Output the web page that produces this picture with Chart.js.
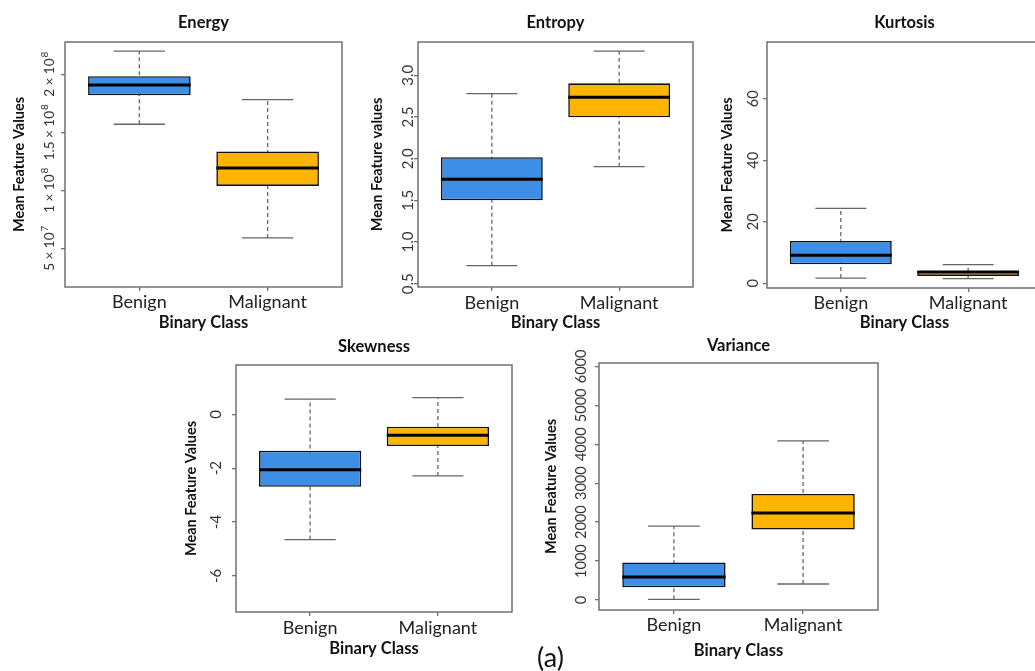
<!DOCTYPE html>
<html>
<head>
<meta charset="utf-8">
<script src="https://cdn.jsdelivr.net/npm/chart.js@4.4.1/dist/chart.umd.min.js"></script>
<style>
  html, body { margin: 0; padding: 0; background: #fff; overflow: hidden; }
  body { width: 1035px; height: 671px; position: relative; }
  canvas { position: absolute; }
  #tag { position: absolute; left: 537px; top: 641px; font: 27px Lato, sans-serif; color: #111; line-height: 32px; }
</style>
</head>
<body>
<canvas id="energy"></canvas>
<canvas id="entropy"></canvas>
<canvas id="kurtosis"></canvas>
<canvas id="skewness"></canvas>
<canvas id="variance"></canvas>
<div id="tag">(a)</div>
<script>
const categories = ["Benign", "Malignant"]

// five-number summaries: [min, q1, median, q3, max]
const energyBenign = [1.569e8, 1.819e8, 1.908e8, 1.983e8, 2.20e8]
const energyMalignant = [5.89e7, 1.037e8, 1.192e8, 1.334e8, 1.782e8]
const entropyBenign = [0.716, 1.50, 1.753, 2.017, 2.78]
const entropyMalignant = [1.904, 2.496, 2.736, 2.904, 3.29]
const kurtosisBenign = [1.7, 6.2, 9.15, 13.8, 24.4]
const kurtosisMalignant = [1.5, 2.4, 3.7, 4.0, 6.1]
const skewnessBenign = [-4.65, -2.69, -2.06, -1.35, 0.56]
const skewnessMalignant = [-2.29, -1.18, -0.78, -0.46, 0.62]
const varianceBenign = [17, 326, 591, 964, 1897]
const varianceMalignant = [411, 1808, 2236, 2725, 4085]

// y axis ticks and their labels (^ marks a superscript)
const energyTicks = [5e7, 1e8, 1.5e8, 2e8]
const energyTickLabels = ["5 \u00d7 10^7", "1 \u00d7 10^8", "1.5 \u00d7 10^8", "2 \u00d7 10^8"]
const entropyTicks = [0.5, 1.0, 1.5, 2.0, 2.5, 3.0]
const entropyTickLabels = ["0.5", "1.0", "1.5", "2.0", "2.5", "3.0"]
const kurtosisTicks = [0, 20, 40, 60]
const kurtosisTickLabels = ["0", "20", "40", "60"]
const skewnessTicks = [-6, -4, -2, 0]
const skewnessTickLabels = ["-6", "-4", "-2", "0"]
const varianceTicks = [0, 1000, 2000, 3000, 4000, 5000, 6000]
const varianceTickLabels = ["0", "1000", "2000", "3000", "4000", "5000", "6000"]

const FONT = "Lato, 'Open Sans', sans-serif"
const BOX_COLORS = ["#3d8ee6", "#ffb400"]

// R style boxplot bits: dashed whiskers + staples, median bar, frame, rotated y labels
const rBoxPlot = {
  id: "rBoxPlot",
  beforeDatasetsDraw(chart, args, opts) {
    const { ctx } = chart
    const y = chart.scales.y
    const meta = chart.getDatasetMeta(0)
    opts.stats.forEach((s, i) => {
      const bar = meta.data[i]
      const half = bar.width / 4
      ctx.save()
      ctx.strokeStyle = "#666"
      ctx.lineWidth = 1.3
      ctx.setLineDash([4, 3])
      ctx.beginPath()
      ctx.moveTo(bar.x, y.getPixelForValue(s[0]))
      ctx.lineTo(bar.x, y.getPixelForValue(s[4]))
      ctx.stroke()
      ctx.setLineDash([])
      for (const v of [s[0], s[4]]) {
        const py = y.getPixelForValue(v)
        ctx.beginPath()
        ctx.moveTo(bar.x - half, py)
        ctx.lineTo(bar.x + half, py)
        ctx.stroke()
      }
      ctx.restore()
    })
  },
  afterDatasetsDraw(chart, args, opts) {
    const { ctx } = chart
    const y = chart.scales.y
    const meta = chart.getDatasetMeta(0)
    opts.stats.forEach((s, i) => {
      const bar = meta.data[i]
      const py = y.getPixelForValue(s[2])
      ctx.save()
      ctx.strokeStyle = "#000"
      ctx.lineWidth = 3
      ctx.beginPath()
      ctx.moveTo(bar.x - bar.width / 2, py)
      ctx.lineTo(bar.x + bar.width / 2, py)
      ctx.stroke()
      ctx.restore()
    })
  },
  afterDraw(chart, args, opts) {
    const { ctx, chartArea: a } = chart
    const y = chart.scales.y
    ctx.save()
    ctx.strokeStyle = "#707070"
    ctx.lineWidth = 1.5
    ctx.strokeRect(a.left, a.top, a.right - a.left, a.bottom - a.top)
    ctx.fillStyle = "#333"
    ctx.textAlign = "left"
    ctx.textBaseline = "middle"
    const main = `${opts.tickSize}px ${FONT}`
    const sup = `${Math.round(opts.tickSize * 0.72)}px ${FONT}`
    y.ticks.forEach((t, i) => {
      const [base, exp] = opts.tickLabels[i].split("^")
      ctx.font = main
      const wb = ctx.measureText(base).width
      ctx.font = sup
      const we = exp ? ctx.measureText(exp).width + 1 : 0
      ctx.save()
      ctx.translate(a.left - opts.tickGap, y.getPixelForValue(t.value))
      ctx.rotate(-Math.PI / 2)
      ctx.font = main
      ctx.fillText(base, -(wb + we) / 2, 0)
      if (exp) {
        ctx.font = sup
        ctx.fillText(exp, -(wb + we) / 2 + wb + 1, -opts.tickSize * 0.42)
      }
      ctx.restore()
    })
    ctx.restore()
  }
}

function boxPanel(p) {
  const canvas = document.getElementById(p.id)
  canvas.width = p.w
  canvas.height = p.h
  canvas.style.left = p.x + "px"
  canvas.style.top = p.y + "px"

  const [l, t, r, b] = p.area
  const titleLH = 16.5 * 1.2
  const titlePadTop = p.titleY - p.y - titleLH / 2
  const xTickLH = 18 * 1.2
  const yTitleLH = 14.5 * 1.2

  new Chart(canvas, {
    type: "bar",
    data: {
      datasets: [{
        data: p.stats.map((s, i) => ({ x: i + 1, y: [s[1], s[3]] })),
        backgroundColor: BOX_COLORS,
        borderColor: "#111",
        borderWidth: 1.6,
        borderSkipped: false,
        barPercentage: 0.8,
        categoryPercentage: 1,
      }],
    },
    options: {
      responsive: false,
      animation: false,
      devicePixelRatio: 1,
      layout: { padding: { left: 0, top: 0, bottom: 0, right: p.x + p.w - r } },
      plugins: {
        legend: { display: false },
        tooltip: { enabled: false },
        title: {
          display: true,
          text: p.title,
          fullSize: false,
          color: "#111",
          font: { family: FONT, size: 16.5, weight: "bold", lineHeight: 1.2 },
          padding: { top: titlePadTop, bottom: t - p.y - titlePadTop - titleLH },
        },
        rBoxPlot: { stats: p.stats, tickLabels: p.tickLabels, tickGap: p.tickGap, tickSize: p.tickSize },
      },
      scales: {
        x: {
          type: "linear",
          min: 0.42,
          max: 2.58,
          offset: false,
          afterBuildTicks: s => { s.ticks = categories.map((c, i) => ({ value: i + 1 })) },
          afterFit: s => { s.height = p.y + p.h - b },
          ticks: {
            callback: v => categories[v - 1],
            maxRotation: 0,
            autoSkip: false,
            color: "#222",
            padding: p.xTickY - b - 4 - xTickLH / 2,
            font: { family: FONT, size: 18, lineHeight: 1.2 },
          },
          grid: { drawOnChartArea: false, offset: false, tickLength: 4, color: "#707070", lineWidth: 1.3 },
          border: { display: false },
          title: {
            display: true,
            text: "Binary Class",
            color: "#111",
            font: { family: FONT, size: 16.5, weight: "bold", lineHeight: 1.2 },
            padding: { top: 0, bottom: p.y + p.h - p.xTitleY - titleLH / 2 },
          },
        },
        y: {
          min: p.range[0],
          max: p.range[1],
          afterBuildTicks: s => { s.ticks = p.ticks.map(v => ({ value: v })) },
          afterFit: s => { s.width = l - p.x },
          ticks: { display: false },
          grid: { drawOnChartArea: false, tickLength: 4, color: "#707070", lineWidth: 1.3 },
          border: { display: false },
          title: {
            display: true,
            text: p.yTitle,
            color: "#111",
            font: { family: FONT, size: 14.5, weight: "bold", lineHeight: 1.2 },
            padding: { top: p.yTitleX - p.x - yTitleLH / 2, bottom: 0 },
          },
        },
      },
    },
    plugins: [rBoxPlot],
  })
}

boxPanel({
  id: "energy", title: "Energy", yTitle: "Mean Feature Values",
  stats: [energyBenign, energyMalignant], range: [1.66e7, 2.278e8],
  ticks: energyTicks, tickLabels: energyTickLabels, tickGap: 15, tickSize: 13.5,
  x: 0, y: 0, w: 346, h: 335, area: [65, 42, 342, 287],
  titleY: 23, yTitleX: 19, xTickY: 302, xTitleY: 323,
})
boxPanel({
  id: "entropy", title: "Entropy", yTitle: "Mean Feature values",
  stats: [entropyBenign, entropyMalignant], range: [0.46, 3.40],
  ticks: entropyTicks, tickLabels: entropyTickLabels, tickGap: 10, tickSize: 15,
  x: 350, y: 0, w: 348, h: 335, area: [418, 42, 693, 287],
  titleY: 23, yTitleX: 377, xTickY: 303, xTitleY: 323,
})
boxPanel({
  id: "kurtosis", title: "Kurtosis", yTitle: "Mean Feature Values",
  stats: [kurtosisBenign, kurtosisMalignant], range: [-1.53, 78.5],
  ticks: kurtosisTicks, tickLabels: kurtosisTickLabels, tickGap: 14, tickSize: 14.5,
  x: 700, y: 0, w: 346, h: 335, area: [767, 42, 1042, 288],
  titleY: 23, yTitleX: 727, xTickY: 303, xTitleY: 323,
})
boxPanel({
  id: "skewness", title: "Skewness", yTitle: "Mean Feature Values",
  stats: [skewnessBenign, skewnessMalignant], range: [-7.34, 1.83],
  ticks: skewnessTicks, tickLabels: skewnessTickLabels, tickGap: 20, tickSize: 15,
  x: 170, y: 330, w: 350, h: 341, area: [236, 365, 512, 612],
  titleY: 347, yTitleX: 191, xTickY: 628, xTitleY: 649,
})
boxPanel({
  id: "variance", title: "Variance", yTitle: "Mean Feature Values",
  stats: [varianceBenign, varianceMalignant], range: [-257, 6087],
  ticks: varianceTicks, tickLabels: varianceTickLabels, tickGap: 18, tickSize: 14.5,
  x: 525, y: 330, w: 360, h: 341, area: [599, 363, 878, 610],
  titleY: 346, yTitleX: 551, xTickY: 625, xTitleY: 651,
})
</script>
</body>
</html>
